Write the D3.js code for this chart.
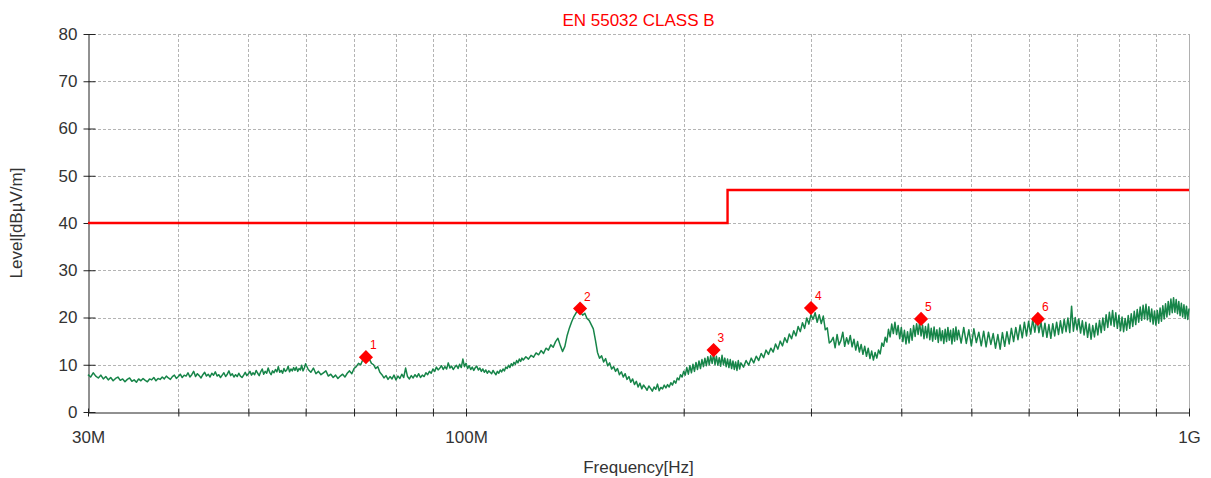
<!DOCTYPE html>
<html>
<head>
<meta charset="utf-8">
<script src="https://cdn.jsdelivr.net/npm/d3@7"></script>
<style>
  body { margin: 0; background: #fff; }
  text { font-family: "Liberation Sans", Arial, sans-serif; }
</style>
</head>
<body>
<div id="chart"></div>
<script>
// ---- data (frequencies in MHz, levels in dBµV/m) ----
const title = "EN 55032 CLASS B";
const yTicks = [0, 10, 20, 30, 40, 50, 60, 70, 80];
const xGridFreq = [40, 50, 60, 70, 80, 90, 100, 200, 300, 400, 500, 600, 700, 800, 900];
const xTickFreq = [30, 100, 1000];
const xTickLabels = ["30M", "100M", "1G"];

const limitFreq = [30, 230, 230, 1000];
const limitLevel = [40, 40, 47, 47];

const markerFreq = [72.7, 143.8, 220, 300, 426, 618];
const markerLevel = [11.6, 21.9, 13.1, 22.0, 19.7, 19.7];
const markerLabels = ["1", "2", "3", "4", "5", "6"];

const traceFreq = [
  30, 30.25, 30.5, 30.75, 31, 31.25, 31.5, 31.75,
  32, 32.25, 32.5, 32.75, 33, 33.25, 33.5, 33.75,
  34, 34.25, 34.5, 34.75, 35, 35.25, 35.5, 35.75,
  36, 36.25, 36.5, 36.75, 37, 37.25, 37.5, 37.75,
  38, 38.25, 38.5, 38.75, 39, 39.25, 39.5, 39.75,
  40, 40.25, 40.5, 40.75, 41, 41.25, 41.5, 41.75,
  42, 42.25, 42.5, 42.75, 43, 43.25, 43.5, 43.75,
  44, 44.25, 44.5, 44.75, 45, 45.25, 45.5, 45.75,
  46, 46.25, 46.5, 46.75, 47, 47.25, 47.5, 47.75,
  48, 48.25, 48.5, 48.75, 49, 49.25, 49.5, 49.75,
  50, 50.25, 50.5, 50.75, 51, 51.25, 51.5, 51.75,
  52, 52.25, 52.5, 52.75, 53, 53.25, 53.5, 53.75,
  54, 54.25, 54.5, 54.75, 55, 55.25, 55.5, 55.75,
  56, 56.25, 56.5, 56.75, 57, 57.25, 57.5, 57.75,
  58, 58.25, 58.5, 58.75, 59, 59.25, 59.5, 59.75,
  60,
  60.5, 61, 61.5, 62, 62.5, 63, 63.5, 64,
  64.5, 65, 65.5, 66, 66.5, 67, 67.5, 68,
  68.5, 69, 69.5, 70, 70.5, 71, 71.5, 72,
  72.5, 73, 73.5, 74, 74.5, 75, 75.5, 76,
  76.5, 77, 77.5, 78, 78.5, 79, 79.5, 80,
  80.5, 81, 81.5, 82, 82.5, 83, 83.5, 84,
  84.5, 85, 85.5, 86, 86.5, 87, 87.5, 88,
  88.5, 89, 89.5, 90, 90.5, 91, 91.5, 92,
  92.5, 93, 93.5, 94, 94.5, 95, 95.5, 96,
  96.5, 97, 97.5, 98, 98.5, 99, 99.5, 100,
  100.5, 101, 101.5, 102, 102.5, 103, 103.5, 104,
  104.5, 105, 105.5, 106, 106.5, 107, 107.5, 108,
  108.5, 109, 109.5, 110, 110.5, 111, 111.5, 112,
  112.5, 113, 113.5, 114, 114.5, 115, 115.5, 116,
  116.5, 117, 117.5, 118, 118.5, 119, 119.5, 120,
  121, 122, 123, 124, 125, 126, 127, 128, 129, 130,
  131, 132, 133, 134, 135, 136, 137, 138, 139, 140,
  141, 142, 143, 144, 145, 146, 147, 148, 149, 150,
  151, 152, 153, 154, 155, 156, 157, 158, 159, 160,
  161, 162, 163, 164, 165, 166, 167, 168, 169, 170,
  171, 172, 173, 174, 175, 176, 177, 178, 179, 180,
  181, 182, 183, 184, 185, 186, 187, 188, 189, 190,
  191, 192, 193, 194, 195, 196, 197, 198, 199, 200,
  201, 202, 203, 204, 205, 206, 207, 208, 209, 210,
  211, 212, 213, 214, 215, 216, 217, 218, 219, 220,
  221, 222, 223, 224, 225, 226, 227, 228, 229, 230,
  231, 232, 233, 234, 235, 236, 237, 238, 239, 240,
  242, 244, 246, 248, 250, 252, 254, 256, 258, 260,
  262, 264, 266, 268, 270, 272, 274, 276, 278, 280,
  282, 284, 286, 288, 290, 292, 294, 296, 298, 300,
  302, 304, 306, 308, 310, 312, 314, 316, 318, 320,
  322, 324, 326, 328, 330, 332, 334, 336, 338, 340,
  342, 344, 346, 348, 350, 352, 354, 356, 358, 360,
  362, 364, 366, 368, 370, 372, 374, 376, 378, 380,
  382, 384, 386, 388, 390, 392, 394, 396, 398, 400,
  402, 404, 406, 408, 410, 412, 414, 416, 418, 420,
  422, 424, 426, 428, 430, 432, 434, 436, 438, 440,
  442, 444, 446, 448, 450, 452, 454, 456, 458, 460,
  462, 464, 466, 468, 470, 472, 474, 476, 478, 480,
  484, 488, 492, 496, 500, 504, 508, 512, 516, 520,
  524, 528, 532, 536, 540, 544, 548, 552, 556, 560,
  564, 568, 572, 576, 580, 584, 588, 592, 596, 600,
  604, 608, 612, 616, 620, 624, 628, 632, 636, 640,
  644, 648, 652, 656, 660, 664, 668, 672, 676, 680,
  684, 688, 692, 696, 700, 704, 708, 712, 716, 720,
  724, 728, 732, 736, 740, 744, 748, 752, 756, 760,
  764, 768, 772, 776, 780, 784, 788, 792, 796, 800,
  804, 808, 812, 816, 820, 824, 828, 832, 836, 840,
  844, 848, 852, 856, 860, 864, 868, 872, 876, 880,
  884, 888, 892, 896, 900, 904, 908, 912, 916, 920,
  924, 928, 932, 936, 940, 944, 948, 952, 956, 960,
  964, 968, 972, 976, 980, 984, 988, 992, 996, 1000
];

const traceLevel = [
  7.9, 7.4, 8.3, 7.6, 7.2, 7.8, 7.0, 7.5,
  6.8, 7.3, 6.6, 7.1, 7.4, 6.7, 7.0, 6.4,
  6.9, 7.2, 6.5, 6.8, 6.3, 7.0, 6.6, 7.1,
  6.7, 6.4, 7.0, 6.8, 7.3, 6.6, 7.1, 6.9,
  7.4, 7.0, 7.6, 7.2, 6.9, 7.5, 7.8, 7.1,
  7.5, 8.0, 7.3, 7.8, 7.6, 8.3, 7.4, 7.9,
  8.6, 7.5, 8.1, 7.7, 7.2, 7.9, 8.4, 7.6,
  8.0, 7.4, 8.2, 7.8, 8.5, 7.6, 7.9, 7.3,
  7.8, 8.3, 7.5, 8.0, 8.7, 7.7, 8.1, 7.4,
  7.9, 7.5, 8.2, 7.6, 7.3, 7.8, 8.4, 7.7,
  8.1, 8.6, 7.8, 8.3, 7.9, 8.8, 8.2, 7.7,
  8.5, 9.1, 8.0, 8.6, 8.2, 9.3, 8.4, 7.9,
  8.7, 8.3, 9.0, 8.5, 9.6, 8.4, 8.8, 8.2,
  9.2, 8.6, 8.9, 9.7, 8.5, 9.1, 8.7, 9.4,
  8.8, 9.5, 8.6, 9.2, 8.9, 9.9, 8.7, 9.3,
  10.2,
  9.0, 8.4, 9.3, 8.1, 8.6, 7.9, 8.3, 8.7,
  7.6, 8.0, 7.3, 7.8, 7.1, 7.6, 8.0, 7.4,
  8.2, 8.7, 8.1, 9.2, 9.6, 10.3, 10.0, 11.1,
  11.5, 10.8, 11.2, 10.3, 10.0, 9.2, 9.6, 8.4,
  7.9, 7.2, 7.7, 6.9, 7.5, 7.0, 7.8, 6.8,
  7.6, 7.1, 8.0, 7.3, 9.3, 7.5, 7.0, 7.7,
  7.2, 7.9, 7.4, 8.1, 7.3, 7.8, 7.5, 8.3,
  7.9, 8.6, 8.2, 9.1, 8.6, 9.5, 8.9, 9.3,
  9.8, 9.0, 9.6, 9.1, 10.4, 9.3, 9.7, 9.0,
  9.5, 9.9, 9.2, 10.1, 9.4, 11.2, 9.6, 10.3,
  9.2, 9.8, 9.0, 9.5, 8.8, 9.4, 9.7, 8.9,
  9.3, 8.6, 9.1, 8.4, 8.9, 8.2, 8.7, 8.4,
  8.1, 8.8, 8.3, 7.9, 8.6, 8.2, 8.9, 8.5,
  9.1, 8.7, 9.5, 9.2, 9.9, 9.4, 10.2, 9.8,
  10.5, 10.1, 10.9, 10.4, 11.2, 10.7, 11.4, 11.0,
  11.7, 11.2, 12.0, 11.6, 12.5, 12.1, 13.0, 12.4, 13.5, 13.1,
  14.2, 13.7, 14.9, 15.6, 14.1, 12.8, 13.9, 16.2, 17.8, 19.1,
  20.2, 21.0, 21.7, 21.1, 20.5, 20.9, 19.8, 19.4, 18.5, 17.6,
  15.2, 12.6, 11.4, 11.9, 10.6, 11.3, 9.8, 10.4, 9.1, 9.6,
  8.6, 9.2, 7.9, 8.5, 7.4, 8.1, 6.9, 7.5, 6.3, 7.0,
  5.8, 6.5, 5.3, 6.1, 4.9, 5.7, 5.2, 4.6, 5.5, 5.0,
  4.4, 5.3, 4.8, 5.9, 4.5, 5.2, 4.9, 5.7, 5.1, 5.8,
  5.3, 6.2, 5.7, 6.6, 6.1, 7.2, 6.8, 7.9, 7.4, 8.6,
  7.8, 9.4, 8.0, 9.8, 8.3, 10.1, 8.6, 10.5, 9.0, 10.8,
  9.2, 11.1, 9.6, 11.4, 9.8, 11.7, 10.0, 11.9, 10.3, 12.4,
  10.0, 11.8, 9.9, 11.5, 9.7, 12.0, 10.0, 11.4, 9.6, 11.2,
  9.4, 11.1, 9.2, 10.8, 9.0, 10.6, 8.8, 10.9, 9.1, 10.4,
  9.5, 10.9, 9.9, 11.4, 10.4, 11.8, 10.9, 12.4, 11.5, 13.1,
  12.2, 13.5, 12.7, 14.4, 13.3, 15.0, 14.0, 15.7, 14.7, 16.5,
  15.5, 17.2, 16.1, 18.1, 17.0, 18.9, 17.7, 19.9, 18.6, 20.6,
  19.6, 21.0, 19.0, 20.6, 18.7, 20.3, 17.4, 17.8, 14.6, 15.0,
  15.8, 13.6, 16.4, 14.2, 15.1, 16.9, 13.9, 15.7, 14.4, 16.2,
  13.8, 15.4, 13.1, 14.9, 12.7, 14.3, 12.2, 13.9, 11.8, 13.5,
  11.3, 12.9, 11.0, 12.6, 11.4, 13.1, 12.3, 14.6, 13.9, 15.8,
  14.8, 17.5, 15.9, 18.6, 16.6, 19.0, 16.4, 18.3, 15.5, 17.9,
  14.9, 17.3, 14.4, 17.0, 14.6, 17.6, 15.2, 18.3, 16.0, 18.7,
  16.4, 19.0, 16.1, 18.4, 15.5, 18.1, 15.7, 18.6, 15.3, 17.7,
  15.0, 18.0, 15.4, 17.4, 14.7, 17.8, 15.1, 17.2, 14.5, 17.5,
  14.9, 17.9, 15.2, 17.3, 14.4, 17.6, 15.0, 18.0, 15.3, 17.3,
  14.6, 17.9, 14.5, 17.4, 14.0, 17.6, 14.7, 16.9, 14.0, 17.1,
  13.8, 16.9, 14.3, 16.6, 13.5, 16.4, 13.3, 16.8, 13.9, 17.0,
  14.4, 17.7, 14.9, 17.9, 15.3, 18.4, 15.7, 19.0, 16.1, 19.2,
  16.5, 19.6, 16.9, 19.8, 16.8, 19.1, 16.0, 18.8, 15.8, 18.5,
  15.6, 18.7, 16.1, 19.0, 16.4, 19.3, 16.7, 19.6, 17.0, 19.9,
  16.8, 22.4, 17.1, 20.0, 17.4, 19.7, 16.7, 19.3, 16.3, 19.0,
  15.8, 18.6, 15.4, 18.3, 15.9, 18.8, 16.3, 19.4, 16.8, 19.9,
  17.3, 20.6, 17.9, 21.1, 18.4, 21.5, 18.1, 21.0, 17.7, 20.5,
  17.2, 20.1, 17.0, 19.8, 17.3, 20.4, 17.7, 20.8, 18.1, 21.3,
  18.5, 21.7, 19.0, 22.2, 19.4, 22.6, 19.7, 22.8, 19.5, 22.3,
  19.1, 21.8, 18.6, 21.4, 18.4, 21.5, 18.8, 22.0, 19.2, 22.5,
  19.7, 22.9, 20.1, 23.4, 20.6, 23.9, 21.0, 24.2, 21.1, 23.8,
  20.8, 23.4, 20.4, 23.0, 20.1, 22.7, 19.8, 22.4, 19.6, 21.9
];

// ---- layout ----
const width = 1211, height = 478;
const margin = {top: 34, right: 22, bottom: 66, left: 88};
const plotW = width - margin.left - margin.right;
const plotH = height - margin.top - margin.bottom;

let svg = d3.select("#chart")
    .append("svg")
    .attr("width", width)
    .attr("height", height)
    .append("g")
    .attr("transform", `translate(${margin.left}, ${margin.top})`);

let x = d3.scaleLog()
    .domain([30, 1000])
    .range([0, plotW]);

let y = d3.scaleLinear()
    .domain([0, 80])
    .range([plotH, 0]);

// grid
let grid = svg.append("g")
    .attr("stroke", "#b4b4b4")
    .attr("stroke-width", 1)
    .attr("stroke-dasharray", "3,2");

grid.selectAll("line.gx")
    .data(xGridFreq)
    .enter()
    .append("line")
    .attr("x1", d => Math.round(x(d)) + 0.5)
    .attr("x2", d => Math.round(x(d)) + 0.5)
    .attr("y1", 0)
    .attr("y2", plotH);

grid.selectAll("line.gy")
    .data(yTicks.slice(1))
    .enter()
    .append("line")
    .attr("x1", 0)
    .attr("x2", plotW)
    .attr("y1", d => Math.round(y(d)) + 0.5)
    .attr("y2", d => Math.round(y(d)) + 0.5);

// right border
svg.append("line")
    .attr("x1", plotW + 0.5).attr("x2", plotW + 0.5)
    .attr("y1", 0).attr("y2", plotH)
    .attr("stroke", "#b0b0b0");

// axes
let tickVals = Array.from(new Set(xTickFreq.concat(xGridFreq)));
let xAxis = svg.append("g")
    .attr("transform", `translate(0, ${plotH + 0.5})`)
    .call(d3.axisBottom(x)
        .tickValues(tickVals)
        .tickSize(4)
        .tickSizeOuter(0)
        .tickFormat(d => {
            let i = xTickFreq.indexOf(d);
            return i >= 0 ? xTickLabels[i] : "";
        }));
xAxis.selectAll(".tick line").attr("y1", -4).attr("stroke", "#222");
xAxis.select(".domain").attr("stroke", "#222");
xAxis.selectAll("text")
    .attr("y", 18)
    .style("font-size", "17px")
    .attr("fill", "#333");

let yAxis = svg.append("g")
    .attr("transform", "translate(0.5, 0)")
    .call(d3.axisLeft(y)
        .tickValues(yTicks)
        .tickSize(5)
        .tickSizeOuter(0)
        .tickPadding(6));
yAxis.selectAll(".tick line").attr("x2", 7).attr("x1", -5).attr("stroke", "#222");
yAxis.select(".domain").attr("stroke", "#222");
yAxis.selectAll("text")
    .style("font-size", "17px")
    .attr("fill", "#333");

// labels
svg.append("text")
    .attr("transform", `translate(${plotW / 2}, -8)`)
    .style("text-anchor", "middle")
    .style("font-size", "17px")
    .attr("fill", "#ff0000")
    .text(title);

svg.append("text")
    .attr("transform", `translate(${plotW / 2}, ${plotH + 61})`)
    .style("text-anchor", "middle")
    .style("font-size", "17px")
    .attr("fill", "#333")
    .text("Frequency[Hz]");

svg.append("text")
    .attr("transform", `translate(-66, ${plotH / 2})rotate(-90)`)
    .style("text-anchor", "middle")
    .style("font-size", "17px")
    .attr("fill", "#333")
    .text("Level[dBµV/m]");

// trace
let trace = traceFreq.map((f, i) => [f, traceLevel[i]]);
svg.append("path")
    .datum(trace)
    .attr("fill", "none")
    .attr("stroke", "#178549")
    .attr("stroke-width", 1.5)
    .attr("stroke-linejoin", "round")
    .attr("d", d3.line().x(d => x(d[0])).y(d => y(d[1])));

// limit line
let limit = limitFreq.map((f, i) => [f, limitLevel[i]]);
svg.append("path")
    .datum(limit)
    .attr("fill", "none")
    .attr("stroke", "#ff0000")
    .attr("stroke-width", 2.4)
    .attr("d", d3.line().x(d => x(d[0])).y(d => y(d[1])));

// markers
let markers = markerFreq.map((f, i) => [f, markerLevel[i], markerLabels[i]]);
let mk = svg.append("g").selectAll("g")
    .data(markers)
    .enter()
    .append("g")
    .attr("transform", d => `translate(${x(d[0])}, ${y(d[1])})`);

mk.append("path")
    .attr("d", d3.symbol().type(d3.symbolSquare).size(100))
    .attr("transform", "rotate(45)")
    .attr("fill", "#ff0000");

mk.append("text")
    .attr("x", 4)
    .attr("y", -8)
    .style("font-size", "12px")
    .attr("fill", "#ff0000")
    .text(d => d[2]);
</script>
</body>
</html>
